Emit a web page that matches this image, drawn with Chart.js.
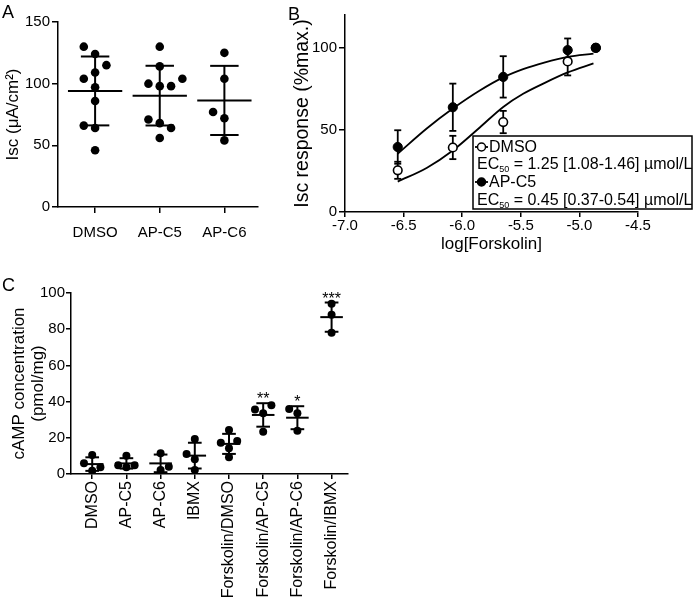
<!DOCTYPE html>
<html>
<head>
<meta charset="utf-8">
<script src="https://cdn.jsdelivr.net/npm/chart.js@4.4.1/dist/chart.umd.min.js"></script>
<style>
  body { margin: 0; background: #fff; width: 693px; height: 600px; position: relative; overflow: hidden; font-family: 'Liberation Sans', Arial, sans-serif; }
  .panel { position: absolute; }
  .tag { position: absolute; font-size: 18px; line-height: 1; color: #000; z-index: 2; }
</style>
</head>
<body>
<div class="panel" style="left:0;top:0"><canvas id="chartA" width="270" height="260"></canvas></div>
<div class="panel" style="left:280px;top:0"><canvas id="chartB" width="413" height="260"></canvas></div>
<div class="panel" style="left:0;top:280px"><canvas id="chartC" width="360" height="320"></canvas></div>
<div class="tag" style="left:2px;top:3px">A</div>
<div class="tag" style="left:288px;top:5px">B</div>
<div class="tag" style="left:2px;top:276px">C</div>
<script>
// ---- panel A: Isc per group (individual points, mean ± SD)
const groupsA = ['DMSO', 'AP-C5', 'AP-C6'];
const iscDmso = [130, 124, 115, 109, 104, 97, 86, 66, 64, 46];
const iscApc5 = [130, 114, 104, 100, 98, 98, 71, 68, 64, 56];
const iscApc6 = [125, 104, 77, 72, 54];
// horizontal scatter slot of each dot (-1 left, 0 centre, 1 right...)
const jitterDmso = [-1, 0, 1, 0, -1, 0, 0, -1, 0, 0];
const jitterApc5 = [0, 0, 2, -1, 0, 1, -1, 0, 1, 0];
const jitterApc6 = [0, 0, -1, 0, 0];

// ---- panel B: concentration-response to forskolin
const forskolinLog = [-6.55, -6.08, -5.65, -5.1, -4.86];
const dmsoMean = [25.4, 39.3, 54.8, 91.7, 100];
const dmsoSd = [5.2, 7.1, 6.8, 8.5, 0];
const apc5Mean = [39.6, 63.8, 82.3, 98.6, 100];
const apc5Sd = [10.2, 14.4, 12.6, 7.1, 0];
// fitted curves
const fitLog = [-6.55, -6.3, -6.08, -5.85, -5.65, -5.48, -5.3, -5.1, -4.88];
const dmsoFit = [18.5, 27, 37.5, 51.5, 64, 72, 78.5, 85, 90.5];
const apc5Fit = [35.5, 51, 63, 74, 82, 87, 91, 94.5, 96.5];
const legendB = ['DMSO', 'EC50 = 1.25 [1.08-1.46] µmol/L', 'AP-C5', 'EC50 = 0.45 [0.37-0.54] µmol/L'];

// ---- panel C: cAMP concentration
const groupsC = ['DMSO', 'AP-C5', 'AP-C6', 'IBMX', 'Forskolin/DMSO', 'Forskolin/AP-C5', 'Forskolin/AP-C6', 'Forskolin/IBMX'];
const campDmso = [5.9, 10.5, 3.7, 1.8];
const campApc5 = [10.1, 4.8, 3.7, 4.8];
const campApc6 = [11.4, 4, 2.2];
const campIbmx = [19.3, 11, 8.1, 2.2];
const campFskDmso = [24.3, 17.3, 18.2, 14.2, 9.2];
const campFskApc5 = [35.7, 38, 33.5, 23.3];
const campFskApc6 = [35.9, 33.5, 23.9];
const campFskIbmx = [94, 88, 78];
const jitterC = [[-1, 0, 1, 0], [0, -1, 0, 1], [0, 1, 0], [0, -1, 0, 0], [0, -1, 1, 0, 0], [-1, 1, 0, 0], [-1, 0, 0], [0, 0, 0]];
const starsC = ['', '', '', '', '', '**', '*', '***'];

const FONT = "'Liberation Sans', Arial, sans-serif";
Chart.defaults.font.family = FONT;
Chart.defaults.color = '#000';
Chart.defaults.animation = false;

function mean(a) { return a.reduce((s, v) => s + v, 0) / a.length; }
function sd(a) {
  const m = mean(a);
  return Math.sqrt(a.reduce((s, v) => s + (v - m) * (v - m), 0) / (a.length - 1));
}

function line(ctx, x1, y1, x2, y2) {
  ctx.beginPath();
  ctx.moveTo(x1, y1);
  ctx.lineTo(x2, y2);
  ctx.stroke();
}

// mean line + SD whiskers (and optional stars) for dot plots
function meanSdPlugin(groups, meanHalf, capHalf, stars) {
  return {
    id: 'meanSd',
    afterDatasetsDraw(chart) {
      const { ctx, scales: { x, y } } = chart;
      const unit = x.getPixelForValue(1) - x.getPixelForValue(0);
      ctx.save();
      ctx.strokeStyle = '#000';
      ctx.lineWidth = 2;
      groups.forEach((vals, i) => {
        const m = mean(vals), s = sd(vals);
        const cx = x.getPixelForValue(i);
        const yt = y.getPixelForValue(m + s), yb = y.getPixelForValue(m - s);
        line(ctx, cx - meanHalf * unit, y.getPixelForValue(m), cx + meanHalf * unit, y.getPixelForValue(m));
        line(ctx, cx, yt, cx, yb);
        line(ctx, cx - capHalf * unit, yt, cx + capHalf * unit, yt);
        line(ctx, cx - capHalf * unit, yb, cx + capHalf * unit, yb);
        if (stars && stars[i]) {
          ctx.fillStyle = '#000';
          ctx.font = '16px ' + FONT;
          ctx.textAlign = 'center';
          ctx.textBaseline = 'alphabetic';
          ctx.fillText(stars[i], cx, yt + 1);
        }
      });
      ctx.restore();
    }
  };
}

function dotData(vals, jit, i, step) {
  return vals.map((v, k) => ({ x: i + jit[k] * step, y: v }));
}

function axisStyle(tickLength) {
  return {
    border: { display: true, color: '#000', width: 1.5 },
    grid: { display: true, drawOnChartArea: false, drawTicks: true, tickLength: tickLength, color: '#000', lineWidth: 1.5 }
  };
}

// ---------- A
const groupsAVals = [iscDmso, iscApc5, iscApc6];
const jitA = [jitterDmso, jitterApc5, jitterApc6];
new Chart(document.getElementById('chartA'), {
  type: 'scatter',
  data: {
    datasets: groupsAVals.map((vals, i) => ({
      data: dotData(vals, jitA[i], i, 0.175),
      pointRadius: 4.3,
      pointBackgroundColor: '#000',
      pointBorderColor: '#000',
      pointBorderWidth: 0
    }))
  },
  options: {
    responsive: false,
    layout: { padding: { top: 22, right: 12, left: 0, bottom: 0 } },
    plugins: { legend: { display: false }, tooltip: { enabled: false } },
    scales: {
      x: {
        type: 'linear', min: -0.574, max: 2.52,
        ...axisStyle(6),
        afterBuildTicks: s => { s.ticks = groupsA.map((g, i) => ({ value: i })); },
        afterFit: s => { s.height = 53; },
        ticks: { callback: v => groupsA[v], font: { size: 15 }, padding: 11, maxRotation: 0 }
      },
      y: {
        min: 0, max: 150,
        ...axisStyle(6),
        afterFit: s => { s.width = 58; },
        ticks: { stepSize: 50, font: { size: 15 }, padding: 2 },
        title: { display: true, text: 'Isc (μA/cm²)', font: { size: 17 }, padding: { top: 3, bottom: 0 } }
      }
    }
  },
  plugins: [meanSdPlugin(groupsAVals, 0.42, 0.22)]
});

// ---------- B
function pts(xs, ys) { return xs.map((x, i) => ({ x: x, y: ys[i] })); }

const errorBarPlugin = {
  id: 'errorBars',
  beforeDatasetsDraw(chart) {
    const { ctx, scales: { x, y } } = chart;
    ctx.save();
    ctx.strokeStyle = '#000';
    ctx.lineWidth = 1.8;
    [[dmsoMean, dmsoSd], [apc5Mean, apc5Sd]].forEach(([m, s]) => {
      forskolinLog.forEach((lx, i) => {
        if (!s[i]) return;
        const px = x.getPixelForValue(lx);
        const yt = y.getPixelForValue(m[i] + s[i]), yb = y.getPixelForValue(m[i] - s[i]);
        line(ctx, px, yt, px, yb);
        line(ctx, px - 3.5, yt, px + 3.5, yt);
        line(ctx, px - 3.5, yb, px + 3.5, yb);
      });
    });
    ctx.restore();
  }
};

const legendBoxPlugin = {
  id: 'legendBox',
  afterDraw(chart) {
    const ctx = chart.ctx;
    const bx = 193, by = 136, bw = 219, bh = 73;
    ctx.save();
    ctx.fillStyle = '#fff';
    ctx.fillRect(bx, by, bw, bh);
    ctx.strokeStyle = '#000';
    ctx.lineWidth = 1.5;
    ctx.strokeRect(bx, by, bw, bh);
    ctx.font = '16px ' + FONT;
    ctx.textBaseline = 'middle';
    ctx.fillStyle = '#000';
    const rows = [147, 164, 182, 200];
    [0, 2].forEach((r, k) => {
      const yy = rows[r];
      ctx.lineWidth = 1.8;
      line(ctx, 195, yy, 208, yy);
      ctx.beginPath();
      ctx.arc(201.5, yy, 4, 0, Math.PI * 2);
      ctx.fillStyle = k === 0 ? '#fff' : '#000';
      ctx.fill();
      ctx.lineWidth = 1.5;
      ctx.stroke();
      ctx.fillStyle = '#000';
      ctx.fillText(legendB[r], 209, yy + 1);
    });
    [1, 3].forEach(r => {
      const yy = rows[r] + 1;
      const txt = legendB[r];
      let xx = 197;
      ctx.font = '16px ' + FONT;
      ctx.fillText('EC', xx, yy);
      xx += ctx.measureText('EC').width;
      ctx.font = '9px ' + FONT;
      ctx.fillText('50', xx, yy + 5);
      xx += ctx.measureText('50').width;
      ctx.font = '16px ' + FONT;
      ctx.fillText(txt.slice(4), xx, yy);
    });
    ctx.restore();
  }
};

new Chart(document.getElementById('chartB'), {
  type: 'scatter',
  data: {
    datasets: [
      { data: pts(forskolinLog, apc5Mean), pointRadius: 4.6, pointBackgroundColor: '#000', pointBorderColor: '#000', pointBorderWidth: 1 },
      { data: pts(forskolinLog, dmsoMean), pointRadius: 4.3, pointBackgroundColor: '#fff', pointBorderColor: '#000', pointBorderWidth: 1.6 },
      { data: pts(fitLog, apc5Fit), showLine: true, pointRadius: 0, borderColor: '#000', borderWidth: 1.8, cubicInterpolationMode: 'monotone' },
      { data: pts(fitLog, dmsoFit), showLine: true, pointRadius: 0, borderColor: '#000', borderWidth: 1.8, cubicInterpolationMode: 'monotone' }
    ]
  },
  options: {
    responsive: false,
    layout: { padding: { top: 15, right: 55, left: 0, bottom: 0 } },
    plugins: { legend: { display: false }, tooltip: { enabled: false } },
    scales: {
      x: {
        type: 'linear', min: -7, max: -4.5,
        ...axisStyle(5),
        afterFit: s => { s.height = 48; },
        ticks: { stepSize: 0.5, font: { size: 15 }, padding: 0, maxRotation: 0, callback: v => v.toFixed(1) },
        title: { display: true, text: 'log[Forskolin]', font: { size: 17 }, padding: { top: 0, bottom: 5 } }
      },
      y: {
        min: 0, max: 120,
        ...axisStyle(6),
        afterFit: s => { s.width = 65; },
        ticks: { stepSize: 50, includeBounds: false, font: { size: 15 }, padding: 2 },
        title: { display: true, text: 'Isc response (%max.)', font: { size: 19.5 }, padding: { top: 11, bottom: 0 } }
      }
    }
  },
  plugins: [errorBarPlugin, legendBoxPlugin]
});

// ---------- C
const groupsCVals = [campDmso, campApc5, campApc6, campIbmx, campFskDmso, campFskApc5, campFskApc6, campFskIbmx];
new Chart(document.getElementById('chartC'), {
  type: 'scatter',
  data: {
    datasets: groupsCVals.map((vals, i) => ({
      data: dotData(vals, jitterC[i], i, 0.24),
      pointRadius: 4,
      pointBackgroundColor: '#000',
      pointBorderColor: '#000',
      pointBorderWidth: 0
    }))
  },
  options: {
    responsive: false,
    layout: { padding: { top: 13, right: 12, left: 0, bottom: 0 } },
    plugins: { legend: { display: false }, tooltip: { enabled: false } },
    scales: {
      x: {
        type: 'linear', min: -0.62, max: 7.48,
        ...axisStyle(5),
        afterBuildTicks: s => { s.ticks = groupsC.map((g, i) => ({ value: i })); },
        afterFit: s => { s.height = 126; },
        ticks: { callback: v => groupsC[v], font: { size: 16 }, padding: 2, minRotation: 90, maxRotation: 90, autoSkip: false }
      },
      y: {
        min: 0, max: 100,
        ...axisStyle(5),
        afterFit: s => { s.width = 71; },
        ticks: { stepSize: 20, font: { size: 15 }, padding: 1 },
        title: { display: true, text: ['cAMP concentration', '(pmol/mg)'], font: { size: 17, lineHeight: 1.12 }, padding: { top: 10, bottom: 0 } }
      }
    }
  },
  plugins: [meanSdPlugin(groupsCVals, 0.33, 0.2, starsC)]
});
</script>
</body>
</html>
